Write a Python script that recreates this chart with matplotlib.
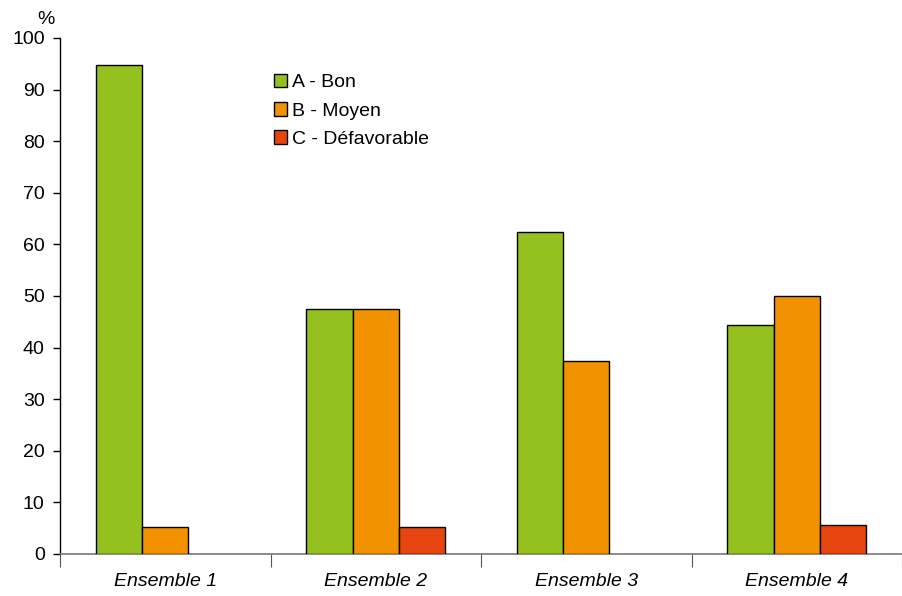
import matplotlib
matplotlib.use("Agg")
import matplotlib.pyplot as plt
from matplotlib.patches import Patch
import numpy as np

plt.rcParams['font.family'] = ['Liberation Sans', 'DejaVu Sans']

categories = ["Ensemble 1", "Ensemble 2", "Ensemble 3", "Ensemble 4"]
series_names = ["A - Bon", "B - Moyen", "C - Défavorable"]
bon = [94.7, 47.4, 62.5, 44.4]
moyen = [5.3, 47.4, 37.5, 50.0]
defavorable = [0.0, 5.3, 0.0, 5.6]
colors = ["#94C11F", "#F39200", "#E6450F"]
yticks = [0, 10, 20, 30, 40, 50, 60, 70, 80, 90, 100]

fig = plt.figure(figsize=(9.02, 5.96), dpi=100)
ax = fig.add_axes([60 / 902, 42 / 596, 842 / 902, 516 / 596])

x = np.arange(len(categories))
w = 0.22
for i, (vals, col) in enumerate(zip([bon, moyen, defavorable], colors)):
    heights = np.array(vals)
    mask = heights > 0
    ax.bar(x[mask] + (i - 1) * w, heights[mask], width=w, color=col,
           edgecolor="black", linewidth=1.0, zorder=3)

# 213 px per category, axis line running to the right edge of the figure
ax.set_xlim(-0.5, -0.5 + 842 / 213)
ax.set_ylim(0, 100)
ax.set_yticks(yticks)
ax.set_yticklabels([str(t) for t in yticks], fontsize=14)
ax.tick_params(axis="y", direction="out", length=5, width=1, pad=6)

ax.set_xticks(x)
ax.set_xticklabels(categories, fontsize=14, style="italic")
ax.tick_params(axis="x", which="major", length=0, pad=14)
ax.set_xticks(np.arange(-0.5, 4.0, 1.0), minor=True)
ax.tick_params(axis="x", which="minor", direction="out", length=9, width=0.8, color="#555555")

for s in ["top", "right"]:
    ax.spines[s].set_visible(False)
ax.spines["left"].set_linewidth(1.0)
ax.spines["bottom"].set_color("#777777")
ax.spines["bottom"].set_linewidth(1.2)

ax.text(-0.5 - 14 / 213, 103.5, "%", fontsize=14, ha="center", va="center",
        transform=ax.transData, clip_on=False)

handles = [Patch(facecolor=c, edgecolor="black", linewidth=1.0) for c in colors]
leg = ax.legend(handles, series_names, loc="upper left",
                bbox_to_anchor=(206 / 842, 1 - 28 / 516), frameon=False,
                fontsize=14, handlelength=0.7, handleheight=0.7,
                handletextpad=0.25, labelspacing=0.55, borderaxespad=0)

fig.savefig("out.png", dpi=100)
